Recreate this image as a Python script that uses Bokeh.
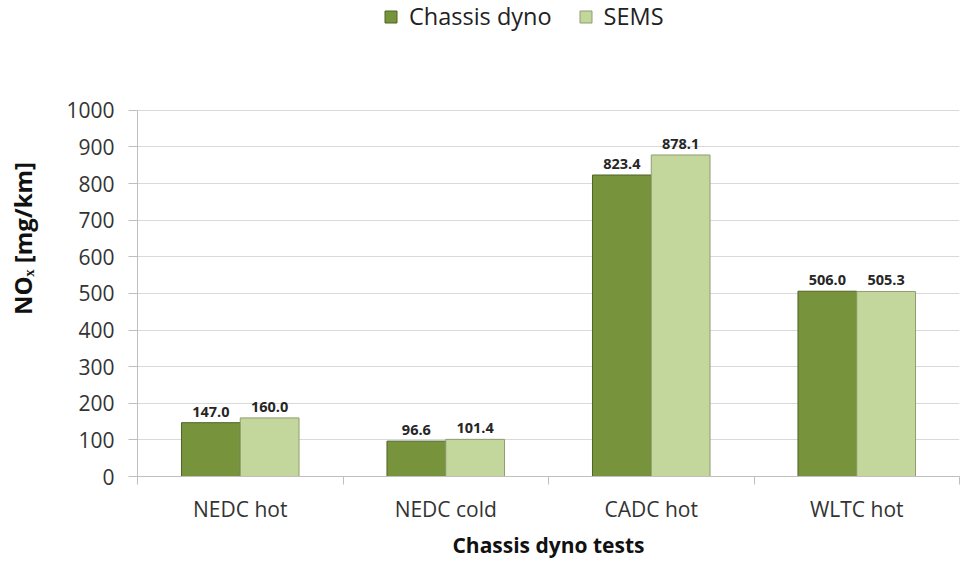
from bokeh.plotting import figure
from bokeh.models import (Range1d, FixedTicker, ColumnDataSource, Legend, LegendItem)
from bokeh.core.properties import value
from bokeh.embed import file_html
from bokeh.resources import INLINE

categories = ["NEDC hot", "NEDC cold", "CADC hot", "WLTC hot"]
chassis_dyno = [147.0, 96.6, 823.4, 506.0]
sems = [160.0, 101.4, 878.1, 505.3]
y_ticks = [0, 100, 200, 300, 400, 500, 600, 700, 800, 900, 1000]

FONT = "Open Sans"
DARK = "#77933C"
LIGHT = "#C3D69B"

# extra headroom above 1000 holds the legend; the axis itself stops at 1000
p = figure(width=960, height=561, output_backend="svg", toolbar_location=None,
           x_range=Range1d(0, len(categories)), y_range=Range1d(0, 1300),
           min_border_left=137, min_border_right=1, min_border_top=0,
           min_border_bottom=70)
p.outline_line_color = None
p.background_fill_color = "white"
p.border_fill_color = "white"

idx = list(range(len(categories)))
bw = 0.286
src = ColumnDataSource(dict(
    xd=[i + 0.5 - bw / 2 for i in idx],
    xl=[i + 0.5 + bw / 2 for i in idx],
    cd=chassis_dyno, se=sems,
    ld=[f"{v:.1f}" for v in chassis_dyno],
    ls=[f"{v:.1f}" for v in sems],
))

r1 = p.vbar(x="xd", top="cd", width=bw, bottom=0, source=src,
            fill_color=DARK, line_color="#4F6228", line_width=1)
r2 = p.vbar(x="xl", top="se", width=bw, bottom=0, source=src,
            fill_color=LIGHT, line_color="#8E9E70", line_width=1)

for xcol, ycol, tcol in (("xd", "cd", "ld"), ("xl", "se", "ls")):
    p.text(x=xcol, y=ycol, text=tcol, source=src, y_offset=-6,
           text_align="center", text_baseline="bottom",
           text_font=value(FONT), text_font_style="bold",
           text_font_size="14.5px", text_color="#262626")

# y axis
p.yaxis.ticker = FixedTicker(ticks=y_ticks)
p.yaxis.bounds = (y_ticks[0], y_ticks[-1])
p.yaxis.axis_line_color = "#BFBFBF"
p.yaxis.major_tick_line_color = "#BFBFBF"
p.yaxis.major_tick_out = 9
p.yaxis.major_tick_in = 0
p.yaxis.minor_tick_line_color = None
p.yaxis.major_label_text_font = FONT
p.yaxis.major_label_text_font_size = "21px"
p.yaxis.major_label_text_color = "#333333"
p.yaxis.major_label_standoff = 14
p.yaxis.axis_label = "NOₓ [mg/km]"
p.yaxis.axis_label_text_font = FONT
p.yaxis.axis_label_text_font_style = "bold"
p.yaxis.axis_label_text_font_size = "24px"
p.yaxis.axis_label_text_color = "#111111"
p.yaxis.axis_label_standoff = 24

# x axis
centers = [i + 0.5 for i in idx]
bounds = list(range(len(categories) + 1))
p.xaxis.ticker = FixedTicker(ticks=centers, minor_ticks=bounds)
p.xaxis.major_label_overrides = {c: lab for c, lab in zip(centers, categories)}
p.xaxis.major_tick_line_color = None
p.xaxis.major_tick_out = 0
p.xaxis.major_tick_in = 0
p.xaxis.minor_tick_line_color = "#BFBFBF"
p.xaxis.minor_tick_out = 8
p.xaxis.minor_tick_in = 0
p.xaxis.axis_line_color = "#BFBFBF"
p.xaxis.major_label_text_font = FONT
p.xaxis.major_label_text_font_size = "21px"
p.xaxis.major_label_text_color = "#333333"
p.xaxis.major_label_standoff = 10
p.xaxis.axis_label = "Chassis dyno tests"
p.xaxis.axis_label_text_font = FONT
p.xaxis.axis_label_text_font_style = "bold"
p.xaxis.axis_label_text_font_size = "21px"
p.xaxis.axis_label_text_color = "#111111"
p.xaxis.axis_label_standoff = 5

p.xgrid.grid_line_color = None
p.ygrid.ticker = FixedTicker(ticks=y_ticks)
p.ygrid.grid_line_color = "#D9D9D9"
p.ygrid.grid_line_width = 1

legend = Legend(items=[LegendItem(label="Chassis dyno", renderers=[r1]),
                       LegendItem(label="SEMS", renderers=[r2])],
                orientation="horizontal", location=(246, 444),
                label_text_font=FONT, label_text_font_size="23.5px",
                label_text_color="#222222", padding=0, margin=0,
                glyph_width=15, glyph_height=15, spacing=26,
                label_standoff=11, border_line_color=None,
                background_fill_alpha=0)
p.add_layout(legend, "center")

open("out.html", "w").write(file_html(p, INLINE))
